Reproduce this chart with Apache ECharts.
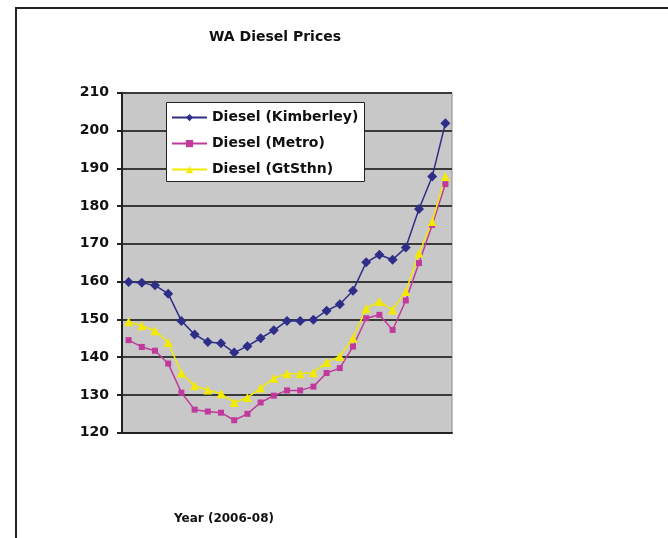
<html>

<head>
  <script src="https://cdn.jsdelivr.net/npm/echarts@6/dist/echarts.min.js"></script>
</head>

<body style="margin:0;background:#fff;">
  <div id="main" style="width: 668px;height:538px;"></div>
  <script>
    // 25 readings across 2006-08 (x labels are not shown on the chart)
    var periods = ['1', '2', '3', '4', '5', '6', '7', '8', '9', '10', '11', '12', '13',
      '14', '15', '16', '17', '18', '19', '20', '21', '22', '23', '24', '25'];
    var kimberley = [159.9, 159.7, 159.0, 156.8, 149.6, 146.0, 144.0, 143.7, 141.2, 142.9, 145.0, 147.1,
      149.6, 149.6, 149.9, 152.3, 154.0, 157.6, 165.1, 167.1, 165.8, 169.0, 179.2, 187.8, 201.9];
    var metro = [144.5, 142.7, 141.7, 138.3, 130.6, 126.1, 125.6, 125.3, 123.3, 125.0, 128.0, 129.8,
      131.2, 131.2, 132.2, 135.8, 137.1, 142.8, 150.3, 151.2, 147.2, 155.0, 164.9, 175.0, 185.8];
    var gtSthn = [149.4, 148.3, 147.0, 143.9, 135.8, 132.4, 131.3, 130.3, 128.0, 129.3, 131.8, 134.4,
      135.6, 135.6, 135.9, 138.6, 140.2, 145.0, 152.9, 154.7, 152.5, 157.4, 167.5, 175.9, 187.8];

    var myChart = echarts.init(document.getElementById('main'));
    var font = '"DejaVu Sans", Verdana, sans-serif';

    function lineSeries(name, data, color, symbol, size) {
      return {
        name: name,
        type: 'line',
        data: data,
        symbol: symbol,
        symbolSize: size,
        showAllSymbol: true,
        itemStyle: { color: color },
        lineStyle: { color: color, width: 1.5 },
        emphasis: { disabled: true }
      };
    }

    var option = {
      animation: false,
      graphic: [{
          type: 'rect',
          shape: { x: 16, y: 8, width: 800, height: 700 },
          style: { fill: 'none', stroke: '#222', lineWidth: 2 },
          silent: true
        },
        {
          type: 'rect',
          z: 3,
          shape: { x: 166.5, y: 102.5, width: 198, height: 79 },
          style: { fill: '#fff', stroke: '#222', lineWidth: 1 },
          silent: true
        },
        {
          type: 'text',
          x: 275,
          y: 37,
          style: {
            text: 'WA Diesel Prices',
            font: 'bold 14px ' + font,
            fill: '#111',
            textAlign: 'center',
            textVerticalAlign: 'middle'
          }
        },
        {
          type: 'text',
          x: 224,
          y: 519,
          style: {
            text: 'Year (2006-08)',
            font: 'bold 12px ' + font,
            fill: '#111',
            textAlign: 'center',
            textVerticalAlign: 'middle'
          }
        }
      ],
      legend: {
        orient: 'vertical',
        left: 171,
        top: 102.7,
        z: 5,
        itemWidth: 35,
        itemHeight: 9,
        itemGap: -3.7,
        padding: 0,
        textStyle: { fontFamily: font, fontWeight: 'bold', fontSize: 14, color: '#111' },
        data: ['Diesel (Kimberley)', 'Diesel (Metro)', 'Diesel (GtSthn)']
      },
      grid: {
        left: 122,
        right: 216,
        top: 92.7,
        bottom: 105.3,
        show: true,
        backgroundColor: '#c8c8c8',
        borderColor: '#8a8a8a',
        borderWidth: 1
      },
      xAxis: {
        type: 'category',
        data: periods,
        boundaryGap: true,
        axisLine: { lineStyle: { color: '#222', width: 2 } },
        axisTick: { interval: 2, length: 5, lineStyle: { color: '#222', width: 2 } },
        axisLabel: { show: false },
        splitLine: { show: false }
      },
      yAxis: {
        type: 'value',
        min: 120,
        max: 210,
        interval: 10,
        axisLine: { show: true, lineStyle: { color: '#222', width: 2 } },
        axisTick: { show: true, length: 5, lineStyle: { color: '#222', width: 2 } },
        axisLabel: { fontFamily: font, fontWeight: 'bold', fontSize: 14, color: '#111', margin: 13 },
        splitLine: { lineStyle: { color: '#3a3a3a', width: 2 } }
      },
      series: [
        lineSeries('Diesel (Kimberley)', kimberley, '#2e2e88', 'diamond', 10),
        lineSeries('Diesel (Metro)', metro, '#c03a9c', 'rect', 6),
        lineSeries('Diesel (GtSthn)', gtSthn, '#f2ea00', 'triangle', 9)
      ]
    };

    myChart.setOption(option);
  </script>
</body>

</html>
